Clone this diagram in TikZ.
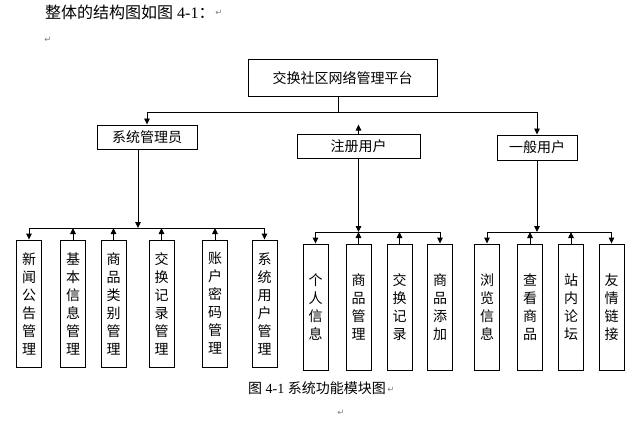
\documentclass[tikz,border=0pt]{standalone}
\usepackage{fontspec}
\setmainfont{Liberation Serif}
\newfontfamily\cjk{Noto Sans CJK SC}
\newfontfamily\symf{DejaVu Sans}
\usetikzlibrary{arrows.meta}
\begin{document}
\begin{tikzpicture}[x=1pt,y=-1pt,
  box/.style={draw=black,line width=0.9pt,inner sep=0pt,font=\cjk\fontsize{14}{16}\selectfont},
  vbox/.style={box,minimum width=25pt,align=center,text width=15pt,font=\cjk\fontsize{14}{18}\selectfont},
  ln/.style={line width=0.9pt},
  arr/.style={line width=0.9pt,-{Triangle[length=6pt,width=5.5pt]}},
  pm/.style={text=gray,font=\symf\fontsize{8.5}{9}\selectfont,inner sep=0pt}]
\useasboundingbox[fill=white] (0,0) rectangle (642,425);
% heading text
\node[anchor=west,inner sep=0pt,font=\fontsize{16}{18}\selectfont] (head) at (45,12.5) {{\cjk 整体的结构图如图} 4-1{\cjk ：}};
\node[pm] (pm1) at (219,13) {↵};
\node[pm] (pm2) at (48,40) {↵};
% top level
\node[box,minimum width=189pt,minimum height=37pt] (top) at (342.5,78) {交换社区网络管理平台};
\node[box,minimum width=100pt,minimum height=24pt] (admin) at (147,137) {系统管理员};
\node[box,minimum width=123pt,minimum height=24pt] (reg) at (358.5,146) {注册用户};
\node[box,minimum width=80pt,minimum height=25pt] (gen) at (537,147.5) {一般用户};
% admin children
\node[vbox,minimum height=127pt] (a1) at (29,303.5) {新\\闻\\公\\告\\管\\理};
\node[vbox,minimum height=127pt] (a2) at (73,303.5) {基\\本\\信\\息\\管\\理};
\node[vbox,minimum height=127pt] (a3) at (113.5,303.5) {商\\品\\类\\别\\管\\理};
\node[vbox,minimum height=127pt] (a4) at (161.5,303.5) {交\\换\\记\\录\\管\\理};
\node[vbox,minimum height=127pt] (a5) at (215,303.5) {账\\户\\密\\码\\管\\理};
\node[vbox,minimum height=127pt] (a6) at (264.5,303.5) {系\\统\\用\\户\\管\\理};
% registered children
\node[vbox,minimum height=126pt] (r1) at (315.5,307) {个\\人\\信\\息};
\node[vbox,minimum height=126pt] (r2) at (358.5,307) {商\\品\\管\\理};
\node[vbox,minimum height=126pt] (r3) at (399.5,307) {交\\换\\记\\录};
\node[vbox,minimum height=126pt] (r4) at (440,307) {商\\品\\添\\加};
% general children
\node[vbox,minimum height=126pt] (g1) at (487,307) {浏\\览\\信\\息};
\node[vbox,minimum height=126pt] (g2) at (530,307) {查\\看\\商\\品};
\node[vbox,minimum height=126pt] (g3) at (571,307) {站\\内\\论\\坛};
\node[vbox,minimum height=126pt] (g4) at (611.5,307) {友\\情\\链\\接};
% caption
\node[anchor=west,inner sep=0pt,font=\fontsize{14}{16}\selectfont] (cap) at (248,388) {{\cjk 图} 4-1 {\cjk 系统功能模块图}};
\node[pm] (pm3) at (391,390) {↵};
\node[pm] (pm4) at (341,413) {↵};
% bus coordinates
\coordinate (bus0) at (0,112);
\coordinate (busA) at (0,228);
\coordinate (busB) at (0,232);
\coordinate (regTip) at ([yshift=9pt]reg.north);
\coordinate (adminOut) at ([xshift=-9pt]admin.south);
% top level connectors
\draw[ln] ([xshift=-4pt]top.south) -- ([xshift=-4pt]top.south |- bus0);
\draw[ln] (admin.north |- bus0) -- (gen.north |- bus0);
\draw[arr] (admin.north |- bus0) -- (admin.north);
\draw[arr] (gen.north |- bus0) -- (gen.north);
\draw[arr] (reg.north) -- (regTip);
% admin connectors
\draw[arr] (adminOut) -- (adminOut |- busA);
\draw[ln] (a1.north |- busA) -- (a6.north |- busA);
\draw[arr] (a1.north |- busA) -- (a1.north);
\draw[arr] (a6.north |- busA) -- (a6.north);
\draw[arr] (a2.north) -- (a2.north |- busA);
\draw[arr] (a3.north) -- (a3.north |- busA);
\draw[arr] (a4.north) -- (a4.north |- busA);
\draw[arr] (a5.north) -- (a5.north |- busA);
% registered connectors
\draw[arr] (reg.south) -- (reg.south |- busB);
\draw[ln] (r1.north |- busB) -- (r4.north |- busB);
\draw[arr] (r1.north |- busB) -- (r1.north);
\draw[arr] (r4.north |- busB) -- (r4.north);
\draw[arr] (r2.north) -- (r2.north |- busB);
\draw[arr] (r3.north) -- (r3.north |- busB);
% general connectors
\draw[arr] (gen.south) -- (gen.south |- busB);
\draw[ln] (g1.north |- busB) -- (g4.north |- busB);
\draw[arr] (g1.north |- busB) -- (g1.north);
\draw[arr] (g4.north |- busB) -- (g4.north);
\draw[arr] (g2.north) -- (g2.north |- busB);
\draw[arr] (g3.north) -- (g3.north |- busB);
\end{tikzpicture}
\end{document}
